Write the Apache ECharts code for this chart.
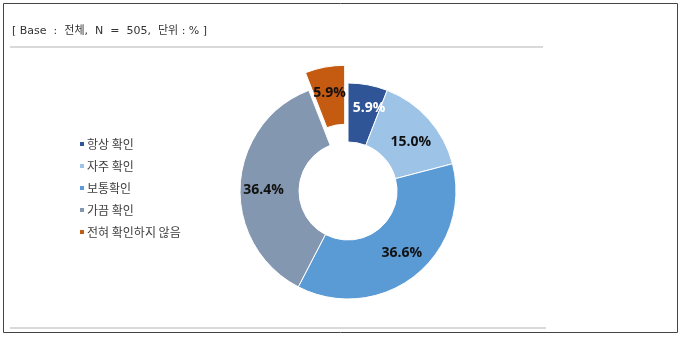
<!DOCTYPE html>
<html><head><meta charset="utf-8">
<script src="https://cdn.jsdelivr.net/npm/echarts@6/dist/echarts.min.js"></script>
<style>html,body{margin:0;padding:0;background:#fff}#c{width:680px;height:338px}</style>
</head><body><div id="c"></div>
<script>
const categories = ['항상 확인', '자주 확인', '보통확인', '가끔 확인', '전혀 확인하지 않음'];
const values = [5.9, 15.0, 36.6, 36.4, 5.9];
const colors = ['#2F5597', '#9DC3E6', '#5B9BD5', '#8497B0', '#C55A11'];
const labelColors = ['#ffffff', '#111111', '#111111', '#111111', '#111111'];
const headerText = '[ Base  :  전체,  N  =  505,  단위 : % ]';

const labelOffsets = [[6, -3], [2, 5], [3, -2], [-3, 3], [-3, 8]];

const chart = echarts.init(document.getElementById('c'), null, {renderer: 'canvas'});
chart.setOption({
  animation: false,
  color: colors,
  graphic: [
    {type: 'rect', shape: {x: 3.5, y: 3.5, width: 674, height: 329}, style: {fill: 'none', stroke: '#444', lineWidth: 1}},
    {type: 'text', left: 12, top: 26, style: {text: headerText, font: '11px "DejaVu Sans", "Noto Sans CJK KR", sans-serif', fill: '#333'}},
    {type: 'line', shape: {x1: 10, y1: 47, x2: 543, y2: 47}, style: {stroke: '#d9d9d9', lineWidth: 2}},
    {type: 'line', shape: {x1: 10, y1: 328, x2: 546, y2: 328}, style: {stroke: '#d9d9d9', lineWidth: 2}}
  ],
  legend: {
    orient: 'vertical',
    left: 73,
    top: 133,
    itemWidth: 6,
    itemHeight: 6,
    itemGap: 10,
    icon: 'rect',
    textStyle: {fontFamily: '"Noto Sans CJK KR", sans-serif', fontSize: 12, color: '#404040', padding: [0, 0, 0, -3]},
    data: categories
  },
  series: [{
    type: 'pie',
    center: [348, 191],
    radius: [49, 108],
    startAngle: 90,
    clockwise: true,
    selectedMode: 'single',
    selectedOffset: 18,
    avoidLabelOverlap: false,
    labelLayout: {hideOverlap: false},
    itemStyle: {borderColor: '#fff', borderWidth: 1},
    label: {
      show: true,
      position: 'inside',
      fontFamily: '"Open Sans", "Noto Sans", sans-serif',
      fontWeight: 'bold',
      fontSize: 14,
      formatter: p => p.value.toFixed(1) + '%'
    },
    labelLine: {show: false},
    emphasis: {disabled: true},
    data: categories.map((name, i) => ({
      name: name,
      value: values[i],
      selected: i === 4,
      label: {color: labelColors[i], offset: labelOffsets[i]}
    }))
  }]
});
</script></body></html>
